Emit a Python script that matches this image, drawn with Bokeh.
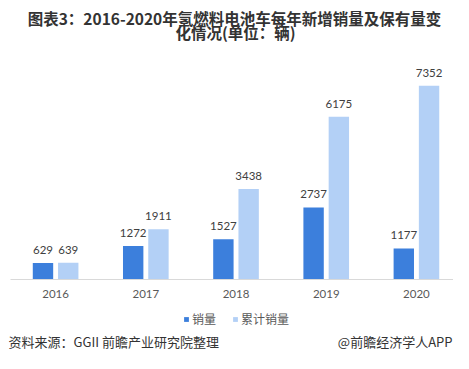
from bokeh.plotting import figure
from bokeh.models import ColumnDataSource, Range1d, Label, Legend, LegendItem
from bokeh.transform import dodge
from bokeh.embed import file_html
from bokeh.resources import INLINE
from bokeh.core.properties import value

years = ["2016", "2017", "2018", "2019", "2020"]
sales = [629, 1272, 1527, 2737, 1177]
cumulative = [639, 1911, 3438, 6175, 7352]
series_names = ["销量", "累计销量"]
title_lines = ["图表3：2016-2020年氢燃料电池车每年新增销量及保有量变", "化情况(单位：辆)"]
source_text = "资料来源：GGII 前瞻产业研究院整理"
credit_text = "@前瞻经济学人APP"

DARK = "#3C7FDC"
LIGHT = "#B3D0F6"

pos = [i + 0.5 for i in range(len(years))]
src = ColumnDataSource(dict(
    pos=pos, year=years, sales=sales, cum=cumulative,
    sales_lbl=[str(v) for v in sales], cum_lbl=[str(v) for v in cumulative],
    zero=[0] * len(years),
))

W, H = 453, 353
p = figure(width=W, height=H, output_backend="svg", toolbar_location=None,
           x_range=Range1d(-0.111, 4.911), y_range=Range1d(-2808, 10588),
           x_axis_location=None, y_axis_location=None,
           min_border=0, min_border_left=0, min_border_right=0,
           min_border_top=0, min_border_bottom=0)
p.outline_line_color = None
p.grid.visible = False
p.background_fill_color = "white"
p.border_fill_color = "white"

r1 = p.vbar(x=dodge("pos", -0.14), top="sales", bottom=0, width=0.226,
            source=src, fill_color=DARK, line_color=None)
r2 = p.vbar(x=dodge("pos", 0.14), top="cum", bottom=0, width=0.226,
            source=src, fill_color=LIGHT, line_color=None)

num_font = value("Lato")
p.text(x=dodge("pos", -0.14), y="sales", text="sales_lbl", source=src,
       text_align="center", text_baseline="middle", y_offset=-13,
       text_font=num_font, text_font_size="11.5px", text_color="#404040")
p.text(x=dodge("pos", 0.14), y="cum", text="cum_lbl", source=src,
       text_align="center", text_baseline="middle", y_offset=-13,
       text_font=num_font, text_font_size="11.5px", text_color="#404040")

# category axis line and labels
p.segment(x0=0, x1=len(years), y0=0, y1=0, line_color="#D9D9D9", line_width=1)
p.text(x="pos", y="zero", text="year", source=src, text_align="center", text_baseline="middle",
       y_offset=14, text_font=num_font, text_font_size="11.5px", text_color="#595959")

# title
cjk = "Noto Sans CJK SC"
p.add_layout(Label(x=234, y=H - 17, x_units="screen", y_units="screen", text=title_lines[0],
                   text_align="center", text_baseline="middle", text_font=cjk,
                   text_font_size="15.5px", text_font_style="bold", text_color="#333333"))
p.add_layout(Label(x=235, y=H - 31, x_units="screen", y_units="screen", text=title_lines[1],
                   text_align="center", text_baseline="middle", text_font=cjk,
                   text_font_size="15.5px", text_font_style="bold", text_color="#333333"))

# footer
p.add_layout(Label(x=8, y=H - 341, x_units="screen", y_units="screen", text=source_text,
                   text_align="left", text_baseline="middle", text_font=cjk,
                   text_font_size="13px", text_color="#333333"))
p.add_layout(Label(x=452, y=H - 341, x_units="screen", y_units="screen", text=credit_text,
                   text_align="right", text_baseline="middle", text_font=cjk,
                   text_font_size="13px", text_color="#333333"))

legend = Legend(items=[LegendItem(label=series_names[0], renderers=[r1]),
                       LegendItem(label=series_names[1], renderers=[r2])],
                orientation="horizontal", location=(183, 26),
                glyph_width=6, glyph_height=6, label_standoff=3, spacing=16,
                padding=0, margin=0, border_line_color=None, background_fill_alpha=0,
                label_text_font=cjk, label_text_font_size="12px", label_text_color="#595959",
                label_height=12)
p.add_layout(legend)

open("out.html", "w").write(file_html(p, INLINE))
